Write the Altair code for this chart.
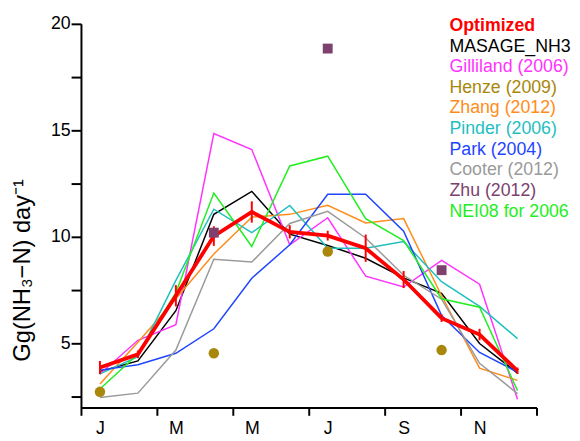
import altair as alt
import pandas as pd

months = list(range(1, 13))

optimized = [3.87, 4.49, 7.24, 10.04, 11.17, 10.24, 10.06, 9.47, 8.0, 6.19, 5.42, 3.72]
optimized_err = [0.31, 0.18, 0.5, 0.46, 0.5, 0.31, 0.23, 0.64, 0.4, 0.18, 0.27, 0.15]
masage = [3.69, 4.18, 6.54, 11.06, 12.14, 10.13, 9.6, 9.0, 8.08, 7.35, 5.0, 3.61]
gilliland = [3.57, 5.15, 5.88, 14.85, 14.1, 9.63, 10.9, 8.16, 7.65, 8.9, 7.78, 2.38]
zhang = [3.1, 5.06, 7.1, 9.2, 10.93, 11.06, 11.48, 10.66, 10.86, 7.24, 3.84, 3.27]
pinder = [3.57, 4.38, 7.96, 11.3, 10.2, 11.48, 9.47, 9.47, 9.78, 7.9, 6.74, 5.23]
park = [3.75, 4.0, 4.54, 5.69, 8.06, 9.63, 12.0, 12.0, 10.27, 6.31, 4.58, 3.66]
cooter = [2.46, 2.67, 4.69, 8.95, 8.82, 10.63, 11.2, 9.95, 8.2, 7.08, 4.07, 2.65]
nei08 = [2.86, 4.5, 7.39, 12.06, 9.55, 13.33, 13.79, 10.86, 9.83, 7.1, 6.7, 2.79]

henze_months = [1, 4, 7, 10]
henze = [2.73, 4.54, 9.32, 4.69]
zhu_months = [4, 7, 10]
zhu = [10.2, 18.84, 8.44]

legend_labels = ["Optimized", "MASAGE_NH3", "Gilliland (2006)", "Henze (2009)",
                 "Zhang (2012)", "Pinder (2006)", "Park (2004)", "Cooter (2012)",
                 "Zhu (2012)", "NEI08 for 2006"]
legend_colors = ["#FF0000", "#000000", "#FF33FF", "#A8870A", "#FF8C1A",
                 "#1FBFBF", "#1F45FF", "#9A9A9A", "#7E416E", "#22EE22"]

FONT = "Liberation Sans"

line_series = {
    "MASAGE_NH3": masage,
    "Gilliland (2006)": gilliland,
    "Zhang (2012)": zhang,
    "Pinder (2006)": pinder,
    "Park (2004)": park,
    "Cooter (2012)": cooter,
    "NEI08 for 2006": nei08,
}
rows = []
for name, vals in line_series.items():
    for m, v in zip(months, vals):
        rows.append({"series": name, "month": m, "value": v})
lines_df = pd.DataFrame(rows)

opt_df = pd.DataFrame({"month": months, "value": optimized, "err": optimized_err})
opt_df["lo"] = opt_df["value"] - opt_df["err"]
opt_df["hi"] = opt_df["value"] + opt_df["err"]
henze_df = pd.DataFrame({"month": henze_months, "value": henze})
zhu_df = pd.DataFrame({"month": zhu_months, "value": zhu})

line_names = list(line_series.keys())
line_colors = [legend_colors[legend_labels.index(n)] for n in line_names]

x_scale = alt.Scale(domain=[0.5, 12.5], nice=False, zero=False)
y_scale = alt.Scale(domain=[2, 20], nice=False, zero=False)

x_axis = alt.Axis(
    values=[i + 0.5 for i in range(13)],
    labelExpr="datum.value == 0.5 ? 'J' : datum.value == 2.5 ? 'M' : datum.value == 4.5 ? 'M' : "
              "datum.value == 6.5 ? 'J' : datum.value == 8.5 ? 'S' : datum.value == 10.5 ? 'N' : ''",
    labelOffset=19.25, labelFlush=False, labelOverlap=False, labelBound=False,
    title=None, grid=False, tickSize=8, labelPadding=4,
)
y_axis = alt.Axis(
    values=[2.5 * i for i in range(1, 9)],
    labelExpr="datum.value % 5 == 0 ? datum.label : ''",
    labelOverlap=False, labelFlush=False, grid=False, tickSize=10, labelPadding=1,
    title="Gg(NH₃−N)  day⁻¹", titleX=-52, titleY=249.5, titleAngle=-90,
    titleBaseline="alphabetic", titleFontWeight="normal", titleFontSize=24, titleFont=FONT,
)

X = alt.X("month:Q", scale=x_scale, axis=x_axis)
Y = alt.Y("value:Q", scale=y_scale, axis=y_axis)

thin = alt.Chart(lines_df).mark_line(strokeWidth=1.5).encode(
    x=X, y=Y,
    color=alt.Color("series:N", scale=alt.Scale(domain=line_names, range=line_colors), legend=None),
    detail="series:N",
)
red = alt.Chart(opt_df).mark_line(color="#FF0000", strokeWidth=3.8).encode(x=X, y=Y)
err = alt.Chart(opt_df).mark_rule(color="#FF0000", strokeWidth=2).encode(
    x="month:Q", y="lo:Q", y2="hi:Q")
henze_pts = alt.Chart(henze_df).mark_circle(size=113, color="#A8870A", opacity=1).encode(x=X, y=Y)
zhu_pts = alt.Chart(zhu_df).mark_square(size=100, color="#7E416E", opacity=1).encode(x=X, y=Y)

legend_layers = []
for i, (lab, col) in enumerate(zip(legend_labels, legend_colors)):
    legend_layers.append(
        alt.Chart(pd.DataFrame({"t": [lab]})).mark_text(
            align="left", baseline="alphabetic", font=FONT, fontSize=18,
            fontWeight="bold" if i == 0 else "normal", color=col,
        ).encode(x=alt.value(373.7), y=alt.value(7.3 + i * 20.9), text="t:N")
    )

chart = alt.layer(thin, red, err, henze_pts, zhu_pts, *legend_layers).properties(
    width=462, height=389,
    autosize=alt.AutoSizeParams(type="none"),
    padding={"left": 74, "top": 13, "right": 36, "bottom": 31},
    background="white",
).configure_view(stroke=None).configure_axis(
    domainColor="black", domainWidth=2, tickColor="black", tickWidth=2,
    labelFont=FONT, labelFontSize=18, labelColor="black", titleColor="black",
)

chart.save("out.html", embed_options={"renderer": "svg", "actions": False})
